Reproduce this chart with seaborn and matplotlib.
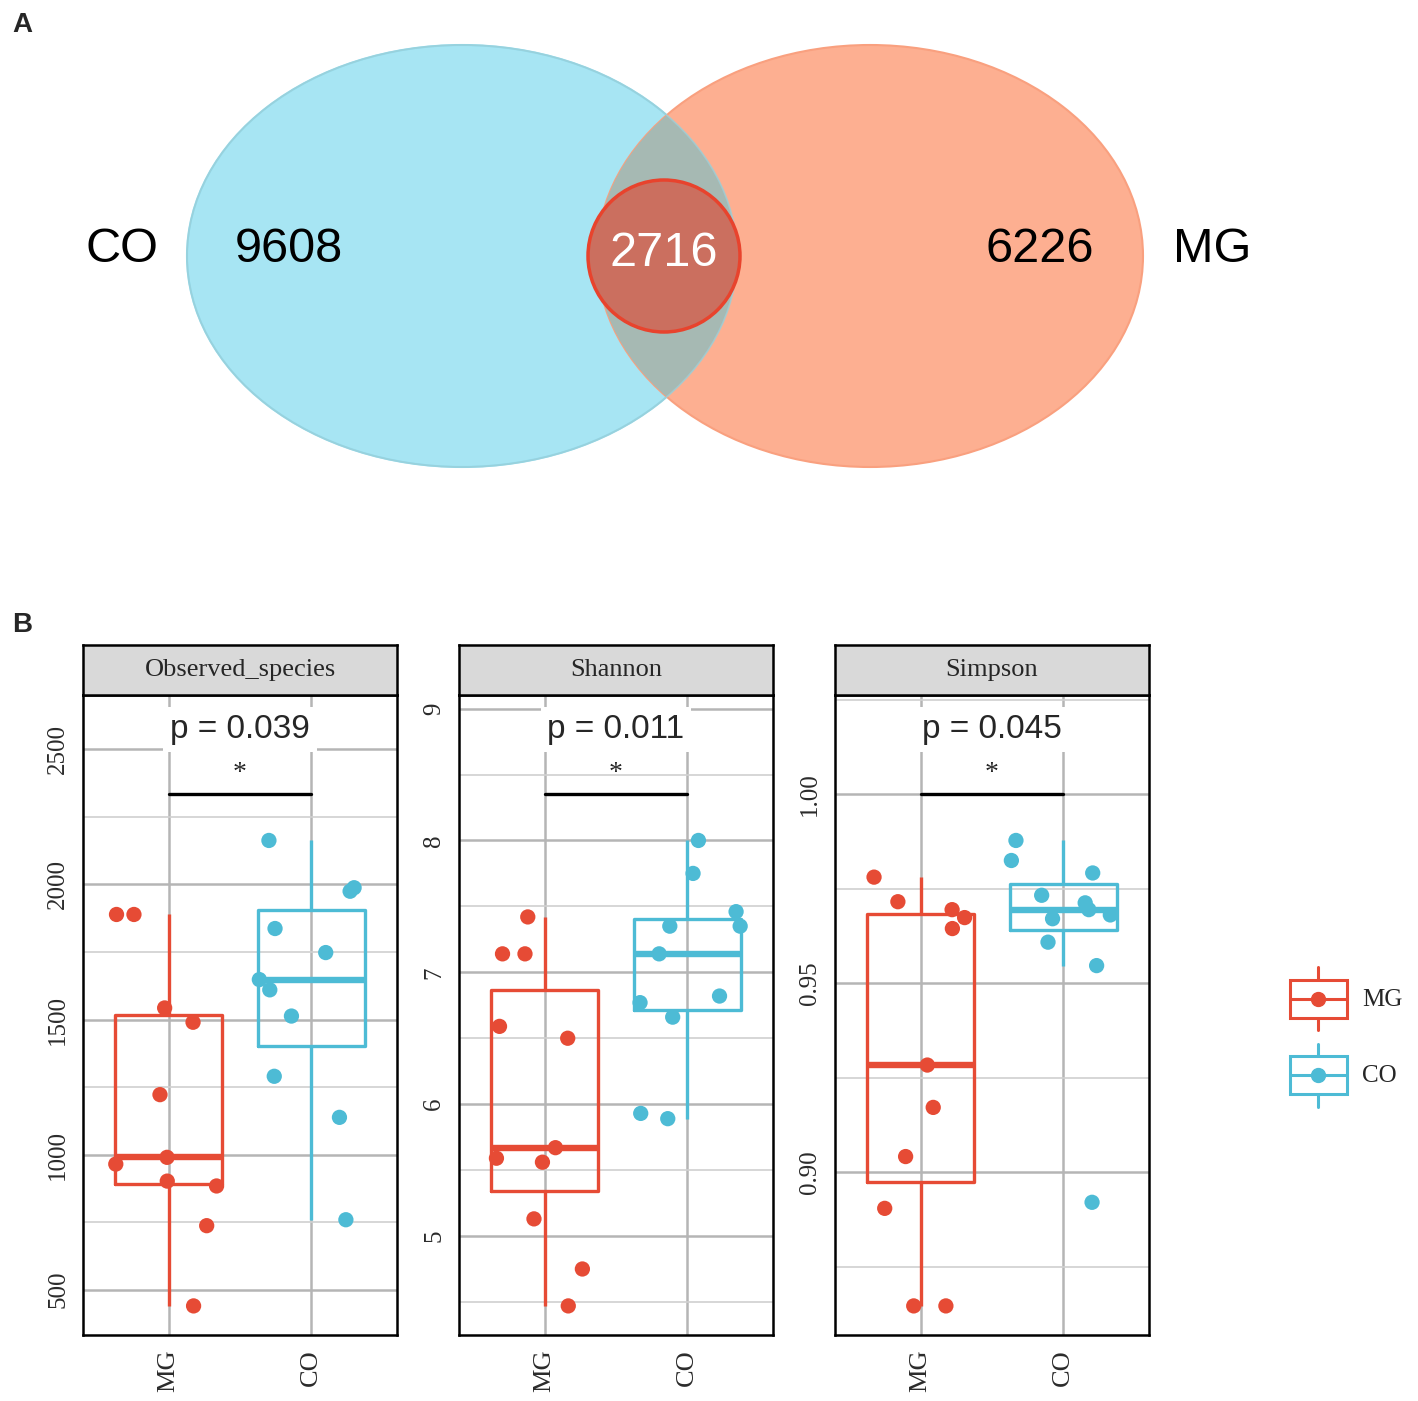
import numpy as np
import pandas as pd
import seaborn as sns
import matplotlib.pyplot as plt
from matplotlib.patches import Ellipse, Circle, Rectangle
from matplotlib.lines import Line2D
from matplotlib.legend_handler import HandlerBase
from matplotlib.ticker import MultipleLocator, AutoMinorLocator, FormatStrFormatter

# Venn counts: CO only, shared, MG only
venn_sets = ["CO", "MG"]
venn_counts = [9608, 2716, 6226]

groups = ["MG", "CO"]
metrics = ["Observed_species", "Shannon", "Simpson"]
p_values = ["0.039", "0.011", "0.045"]
signif = ["*", "*", "*"]

observed_mg = [1889, 1889, 1543, 1490, 1222, 990, 965, 902, 884, 737, 440]
observed_co = [2163, 1988, 1975, 1837, 1748, 1648, 1610, 1513, 1290, 1138, 759]
shannon_mg = [7.42, 7.14, 7.14, 6.59, 6.50, 5.67, 5.59, 5.56, 5.13, 4.75, 4.47]
shannon_co = [8.00, 7.75, 7.46, 7.35, 7.35, 7.14, 6.82, 6.77, 6.66, 5.93, 5.89]
simpson_mg = [0.9781, 0.9716, 0.9695, 0.9674, 0.9645, 0.9284, 0.9172, 0.9042,
              0.8905, 0.8647, 0.8647]
simpson_co = [0.9878, 0.9825, 0.9792, 0.9733, 0.9713, 0.9695, 0.9681, 0.9671,
              0.9609, 0.9547, 0.8921]

palette = {"MG": "#E64B35", "CO": "#4DBBD5"}
SERIF = ["Liberation Serif", "DejaVu Serif"]
SANS = ["Liberation Sans", "DejaVu Sans"]

sns.set_style("white")
plt.rcParams["font.family"] = SERIF

W, H = 1418, 1401
fig = plt.figure(figsize=(W / 100, H / 100), dpi=100)
fig.patch.set_facecolor("white")


def px_axes(x0, y0, x1, y1):
    # axes from pixel box (top-left origin)
    return fig.add_axes([x0 / W, 1 - y1 / H, (x1 - x0) / W, (y1 - y0) / H])


# ---------------- panel A: Venn ----------------
vax = px_axes(0, 0, W, 560)
vax.set_xlim(0, W)
vax.set_ylim(560, 0)
vax.axis("off")

e_co = Ellipse((462, 256), 550, 422, facecolor="#A7E5F3", edgecolor="#8FDBEE", lw=1.5)
e_mg = Ellipse((870, 256), 546, 422, facecolor="#FDAF91", edgecolor="#F9A07F", lw=1.5)
vax.add_patch(e_co)
vax.add_patch(e_mg)
overlap = Ellipse((870, 256), 546, 422, facecolor="#A6B9B3", edgecolor="none")
vax.add_patch(overlap)
overlap.set_clip_path(e_co)
# faint outline of the CO set running through the MG set
vax.add_patch(Ellipse((462, 256), 550, 422, facecolor="none", edgecolor="#9CCFD8",
                      lw=1.2, alpha=0.8))
vax.add_patch(Circle((664, 256), 76, facecolor="#CB6F5F", edgecolor="#E8432D", lw=2.5))

vfont = dict(fontsize=35, family=SANS, va="center", ha="center")
vax.text(122, 250, venn_sets[0], color="black", **vfont)
vax.text(289, 250, str(venn_counts[0]), color="black", **vfont)
vax.text(664, 254, str(venn_counts[1]), color="white", **vfont)
vax.text(1040, 250, str(venn_counts[2]), color="black", **vfont)
vax.text(1212, 250, venn_sets[1], color="black", **vfont)

fig.text(22 / W, 1 - 25 / H, "A", fontsize=20, weight="bold", family=SANS,
         ha="center", va="center")
fig.text(22 / W, 1 - 625 / H, "B", fontsize=20, weight="bold", family=SANS,
         ha="center", va="center")

# ---------------- panel B: boxplots ----------------
panel_data = [(observed_mg, observed_co), (shannon_mg, shannon_co), (simpson_mg, simpson_co)]
steps = [500, 1, 0.05]
lefts = [83, 459, 835]
np.random.seed(11)

for i, (mg, co) in enumerate(panel_data):
    df = pd.DataFrame({"group": ["MG"] * len(mg) + ["CO"] * len(co),
                       "value": mg + co})
    left = lefts[i]
    ax = px_axes(left, 695, left + 314, 1335)

    sns.boxplot(data=df, x="group", y="value", hue="group", order=groups,
                hue_order=groups, palette=palette, fill=False, width=0.75,
                linewidth=2.4, showfliers=False, showcaps=False,
                medianprops={"linewidth": 4.6}, legend=False, ax=ax)
    sns.stripplot(data=df, x="group", y="value", hue="group", order=groups,
                  hue_order=groups, palette=palette, jitter=0.38, size=11,
                  linewidth=0, legend=False, ax=ax, zorder=3)

    y_max = max(max(mg), max(co))
    y_min = min(min(mg), min(co))
    rng = y_max - y_min
    bar_y = y_max + 0.1 * rng
    lab_y = y_max + 0.25 * rng
    pad = 0.05 * (lab_y - y_min)

    ax.set_xlim(-0.6, 1.6)
    ax.set_ylim(y_min - pad, lab_y + pad)
    ax.set_xlabel("")
    ax.set_ylabel("")

    ax.plot(range(len(groups)), [bar_y, bar_y], color="black", lw=2.4, zorder=4)
    ax.annotate(signif[i], xy=(0.5, bar_y), xytext=(0, 6), textcoords="offset points",
                ha="center", va="bottom", fontsize=20, family=SERIF, zorder=5)
    ax.annotate(f"p = {p_values[i]}", xy=(0.5, lab_y), xytext=(0, -4),
                textcoords="offset points", ha="center", va="center",
                fontsize=24, family=SANS, zorder=5,
                bbox=dict(boxstyle="square,pad=0.2", facecolor="white", edgecolor="none"))

    ax.yaxis.set_major_locator(MultipleLocator(steps[i]))
    ax.yaxis.set_minor_locator(AutoMinorLocator(2))
    if i == 2:
        ax.yaxis.set_major_formatter(FormatStrFormatter("%.2f"))
    ax.set_axisbelow(True)
    ax.grid(True, which="major", color="#B5B5B5", lw=1.8)
    ax.grid(True, which="minor", axis="y", color="#D0D0D0", lw=1.2)
    ax.tick_params(which="minor", length=0)
    ax.tick_params(which="major", length=6, width=1.6, color="black",
                   labelsize=18, labelcolor="#2B2B2B", pad=4)
    ax.tick_params(axis="y", labelrotation=90)
    ax.tick_params(axis="x", labelrotation=90, labelsize=19)
    plt.setp(ax.get_yticklabels(), va="center")
    for s in ax.spines.values():
        s.set_visible(True)
        s.set_color("black")
        s.set_linewidth(1.8)

    sax = px_axes(left, 645, left + 314, 695)
    sax.set_facecolor("#D9D9D9")
    sax.set_xticks([])
    sax.set_yticks([])
    for s in sax.spines.values():
        s.set_visible(True)
        s.set_color("black")
        s.set_linewidth(1.8)
    sax.text(0.5, 0.5, metrics[i], ha="center", va="center", fontsize=19,
             family=SERIF, transform=sax.transAxes)


# legend with boxplot-style keys
class BoxKey(HandlerBase):
    def create_artists(self, legend, orig_handle, xdescent, ydescent, width, height,
                       fontsize, trans):
        c = orig_handle.get_color()
        x0, y0 = -xdescent, -ydescent
        cx, cy = x0 + width / 2, y0 + height / 2
        lo, hi = y0 + 0.2 * height, y0 + 0.8 * height
        box = Rectangle((x0, lo), width, hi - lo, fill=False, edgecolor=c, lw=2.2,
                        transform=trans)
        w1 = Line2D([cx, cx], [y0, lo], color=c, lw=2.2, transform=trans)
        w2 = Line2D([cx, cx], [hi, y0 + height], color=c, lw=2.2, transform=trans)
        med = Line2D([x0, x0 + width], [cy, cy], color=c, lw=2.2, transform=trans)
        dot = Line2D([cx], [cy], marker="o", ms=10, color=c, lw=0, transform=trans)
        return [box, w1, w2, med, dot]


handles = [Line2D([], [], color=palette[g]) for g in groups]
fig.legend(handles, groups, handler_map={Line2D: BoxKey()}, loc="center left",
           bbox_to_anchor=(1277 / W, 1 - 1037 / H), frameon=False,
           prop={"family": SERIF, "size": 18}, handlelength=2.3, handleheight=3.5,
           labelspacing=0.55, handletextpad=0.6, borderpad=0)

fig.savefig("out.png", dpi=100, facecolor="white")
